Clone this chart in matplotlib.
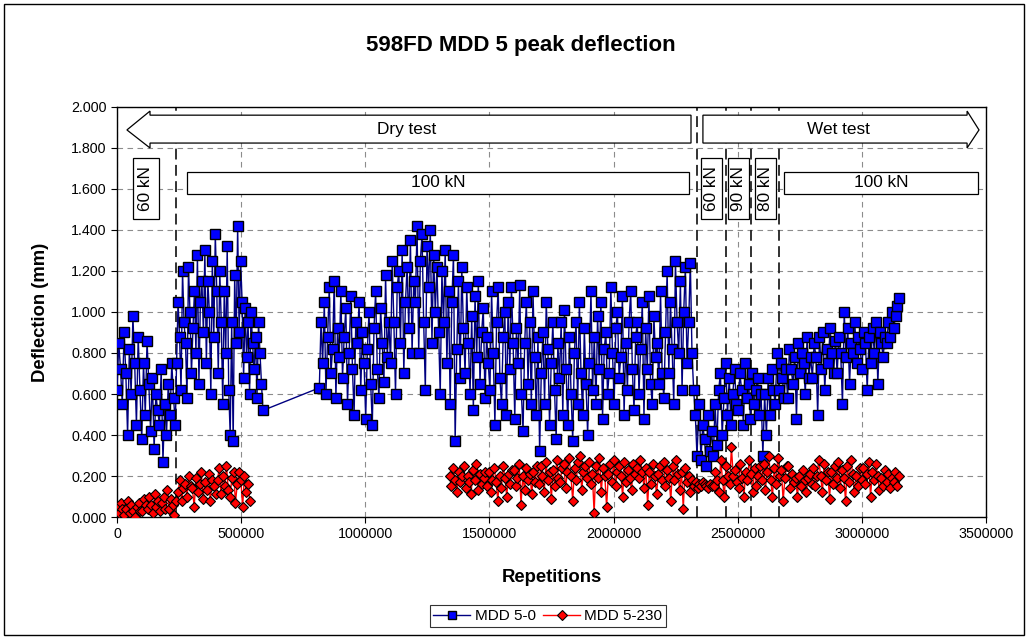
import numpy as np
import matplotlib
matplotlib.use("Agg")
import matplotlib.pyplot as plt
from matplotlib.patches import Polygon, Rectangle
from matplotlib.ticker import FuncFormatter

plt.rcParams['font.family'] = ['Liberation Sans', 'DejaVu Sans']

# MDD 5-0 (surface) peak deflection, mm
blue_a_span = (0, 235000)
blue_a = [0.62, 0.85, 0.72, 0.55, 0.90, 0.70, 0.40, 0.82, 0.60, 0.98, 0.75, 0.45,
          0.88, 0.62, 0.38, 0.75, 0.50, 0.86, 0.65, 0.42, 0.68, 0.33, 0.60, 0.52,
          0.45, 0.72, 0.27, 0.55, 0.40, 0.65, 0.50, 0.75, 0.58, 0.45]
blue_b_span = (240000, 588000)
blue_b = [0.75, 1.05, 0.88, 0.62, 1.20, 0.95, 0.85, 0.58, 1.22, 1.00, 0.70, 0.92,
          1.10, 0.80, 1.28, 0.65, 1.05, 1.15, 0.90, 1.30, 0.75, 1.15, 1.00, 0.60,
          1.25, 0.88, 1.38, 1.10, 0.70, 1.20, 0.95, 0.55, 1.10, 0.80, 1.32, 0.62,
          0.40, 0.95, 0.37, 1.18, 0.85, 1.42, 0.90, 1.25, 1.05, 0.68, 1.02, 0.78,
          0.95, 0.60, 1.00, 0.85, 0.72, 0.88, 0.58, 0.95, 0.80, 0.65, 0.52]
blue_c_span = (815000, 2336000)
blue_c = [0.63, 0.95, 0.75, 1.05, 0.60, 0.88, 1.12, 0.70, 0.82, 1.15, 0.58, 0.92, 0.78,
          1.10, 0.68, 0.88, 1.02, 0.55, 0.80, 1.08, 0.72, 0.50, 0.95, 0.85, 1.05, 0.62, 0.90, 0.75,
          0.48, 0.82, 1.00, 0.65, 0.45, 0.92, 1.10, 0.72, 0.58, 1.02, 0.85, 0.66, 1.18, 0.78, 0.95,
          0.75, 1.25, 0.95, 0.60, 1.12, 1.20, 0.85, 1.30, 0.70, 1.05, 1.22, 0.92, 1.35, 0.80, 1.15,
          1.05, 1.42, 0.80, 1.25, 1.38, 0.95, 0.62, 1.32, 1.12, 1.40, 0.85, 1.28, 1.00, 1.22, 0.90,
          0.60, 1.20, 0.95, 1.30, 0.75, 1.10, 0.55, 1.05, 1.28, 0.37, 0.82, 1.15, 0.68, 1.22, 0.92,
          0.70, 1.12, 0.85, 0.60, 0.98, 0.52, 1.08, 0.78, 1.15, 0.65, 0.90, 1.02, 0.58, 0.88, 0.75,
          0.62, 1.10, 0.80, 0.45, 0.95, 1.12, 0.68, 0.55, 0.88, 1.00, 0.50, 1.05, 0.72, 1.12, 0.85,
          0.48, 0.92, 0.75, 1.13, 0.60, 0.42, 0.85, 1.05, 0.65, 0.95, 0.55, 1.10, 0.78, 0.50, 0.88,
          0.32, 0.70, 0.90, 0.55, 1.05, 0.82, 0.45, 0.75, 0.95, 0.62, 0.38, 0.85, 0.68, 0.95, 0.50,
          1.01, 0.72, 0.45, 0.88, 0.60, 0.37, 0.80, 0.95, 0.55, 1.05, 0.70, 0.50, 0.92, 0.65, 0.40,
          0.75, 1.10, 0.62, 0.88, 0.55, 0.98, 0.72, 1.05, 0.48, 0.82, 0.90, 0.60, 0.70, 1.12, 0.80,
          0.55, 0.92, 1.00, 0.68, 0.78, 1.08, 0.50, 0.85, 0.62, 0.95, 1.10, 0.72, 0.52, 0.88, 0.95,
          0.60, 0.82, 1.05, 0.48, 0.92, 0.72, 1.08, 0.65, 0.55, 0.98, 0.78, 0.85, 0.65, 1.10, 0.70,
          0.58, 0.90, 1.20, 0.70, 1.05, 0.82, 0.55, 1.25, 0.95, 0.80, 1.15, 0.62, 1.00, 1.22, 0.75,
          0.95, 1.24, 0.80, 0.62, 0.50, 0.30]
blue_d_span = (2345000, 3150000)
blue_d = [0.55, 0.28, 0.45, 0.38, 0.25, 0.50, 0.32, 0.42,
          0.30, 0.55, 0.35, 0.62, 0.70, 0.40, 0.58, 0.75, 0.50, 0.68, 0.45, 0.60, 0.72, 0.55,
          0.52, 0.70, 0.62, 0.45, 0.75, 0.58, 0.65, 0.48, 0.70, 0.55, 0.62, 0.68, 0.50, 0.60,
          0.30, 0.60, 0.40, 0.68, 0.50, 0.72, 0.62, 0.55, 0.80, 0.62, 0.75, 0.68, 0.58, 0.72,
          0.58, 0.82, 0.72, 0.65, 0.78, 0.48, 0.85, 0.70, 0.80, 0.75, 0.60, 0.88, 0.68, 0.78,
          0.68, 0.85, 0.78, 0.50, 0.88, 0.72, 0.90, 0.62, 0.82, 0.75, 0.92, 0.80, 0.70, 0.86,
          0.70, 0.88, 0.80, 0.55, 1.00, 0.78, 0.92, 0.65, 0.85, 0.80, 0.95, 0.75, 0.88, 0.82,
          0.72, 0.90, 0.85, 0.62, 0.88, 0.75, 0.92, 0.80, 0.95, 0.65, 0.90, 0.85, 0.78, 0.88,
          0.85, 0.95, 0.88, 1.00, 0.92, 0.98, 1.03, 1.07]

# MDD 5-230 peak deflection, mm
red_a_span = (0, 535000)
red_a = [0.05, 0.02, 0.07, 0.04, 0.01, 0.04, 0.08, 0.02, 0.06, 0.03, 0.00, 0.05, 0.07, 0.03,
         0.03, 0.09, 0.06, 0.04, 0.10, 0.06, 0.02, 0.11, 0.05, 0.08, 0.03, 0.07, 0.10, 0.04,
         0.13, 0.04, 0.09, 0.06, 0.01, 0.08,
         0.12, 0.18, 0.08, 0.14, 0.16, 0.10, 0.20, 0.15,
         0.14, 0.05, 0.19, 0.12, 0.16, 0.22, 0.09, 0.17, 0.13, 0.21, 0.08, 0.18, 0.15, 0.11,
         0.18, 0.24, 0.11, 0.20, 0.15, 0.25, 0.13, 0.10, 0.19, 0.22, 0.07, 0.16, 0.22, 0.18,
         0.05, 0.20, 0.12, 0.16, 0.08]
red_b_span = (1340000, 3150000)
red_b = [0.20, 0.15, 0.24, 0.18, 0.12, 0.22, 0.17, 0.20,
         0.25, 0.14, 0.20, 0.17, 0.11, 0.23, 0.18, 0.26, 0.13, 0.21, 0.16, 0.19, 0.22, 0.15,
         0.22, 0.12, 0.18, 0.24, 0.17, 0.08, 0.20, 0.14, 0.25, 0.19, 0.10, 0.21, 0.16, 0.23,
         0.23, 0.15, 0.19, 0.26, 0.06, 0.20, 0.13, 0.24, 0.18, 0.21, 0.11, 0.22, 0.17, 0.25,
         0.16, 0.25, 0.20, 0.12, 0.27, 0.18, 0.22, 0.09, 0.23, 0.15, 0.28, 0.19, 0.17, 0.24,
         0.26, 0.14, 0.22, 0.29, 0.20, 0.08, 0.24, 0.18, 0.27, 0.30, 0.13, 0.22, 0.25, 0.19,
         0.27, 0.16, 0.21, 0.02, 0.25, 0.19, 0.29, 0.12, 0.24, 0.20, 0.05, 0.21, 0.26, 0.17,
         0.28, 0.15, 0.22, 0.25, 0.20, 0.10, 0.27, 0.17, 0.23, 0.19, 0.13, 0.26, 0.21, 0.24,
         0.19, 0.28, 0.22, 0.14, 0.24, 0.06, 0.22, 0.16, 0.26, 0.20, 0.11, 0.21, 0.25, 0.18,
         0.27, 0.15, 0.23, 0.19, 0.08, 0.25, 0.18, 0.28, 0.21, 0.13, 0.22, 0.04, 0.24, 0.17,
         0.20, 0.12, 0.18, 0.15, 0.17, 0.14, 0.16, 0.15, 0.17, 0.16, 0.15, 0.14, 0.16, 0.15,
         0.15, 0.22, 0.18, 0.12, 0.28, 0.18, 0.10, 0.25, 0.20, 0.16, 0.34, 0.20, 0.23, 0.17,
         0.14, 0.26, 0.19, 0.10, 0.22, 0.18, 0.28, 0.21, 0.12, 0.24, 0.15, 0.20, 0.25, 0.18,
         0.26, 0.13, 0.22, 0.30, 0.18, 0.10, 0.24, 0.16, 0.29, 0.20, 0.23, 0.08, 0.19, 0.25,
         0.25, 0.14, 0.21, 0.17, 0.19, 0.10, 0.20, 0.15, 0.23, 0.18, 0.12, 0.19, 0.21, 0.16,
         0.24, 0.15, 0.20, 0.28, 0.20, 0.12, 0.26, 0.18, 0.22, 0.09, 0.22, 0.16, 0.25, 0.19,
         0.27, 0.14, 0.23, 0.19, 0.08, 0.25, 0.17, 0.28, 0.21, 0.12, 0.20, 0.15, 0.24, 0.18,
         0.24, 0.16, 0.21, 0.27, 0.10, 0.22, 0.18, 0.26, 0.20, 0.13, 0.19, 0.15, 0.23, 0.17,
         0.21, 0.14, 0.19, 0.17, 0.22, 0.15, 0.20]

# load change lines (repetitions)
phase_lines = [237000, 2336000, 2452000, 2553000, 2666000]


def seg_x(span, vals):
    return np.linspace(span[0], span[1], len(vals))


bx = np.concatenate([seg_x(blue_a_span, blue_a), seg_x(blue_b_span, blue_b),
                     seg_x(blue_c_span, blue_c), seg_x(blue_d_span, blue_d)])
by = np.concatenate([blue_a, blue_b, blue_c, blue_d])
rx = np.concatenate([seg_x(red_a_span, red_a), [np.nan], seg_x(red_b_span, red_b)])
ry = np.concatenate([red_a, [np.nan], red_b])

fig = plt.figure(figsize=(10.28, 6.39), dpi=100)
ax = fig.add_axes([0.1138, 0.1909, 0.8453, 0.6417])

ax.plot(bx, by, color='#000080', lw=1.0, marker='s', ms=7.2, mfc='#0000ff',
        mec='black', mew=1.0, label='MDD 5-0', zorder=3)
ax.plot(rx, ry, color='red', lw=1.0, marker='D', ms=5.4, mfc='red',
        mec='black', mew=0.8, label='MDD 5-230', zorder=4)

ax.set_xlim(0, 3500000)
ax.set_ylim(0, 2.0)
ax.set_xticks(np.arange(0, 3500001, 500000))
ax.xaxis.set_major_formatter(FuncFormatter(lambda v, p: f"{int(v)}"))
ax.set_yticks(np.arange(0, 2.001, 0.2))
ax.yaxis.set_major_formatter(FuncFormatter(lambda v, p: f"{v:.3f}"))
ax.tick_params(labelsize=10.3, length=4, width=0.8, direction='out')
ax.grid(True, color='#8c8c8c', ls=(0, (5, 4)), lw=0.8)
ax.set_axisbelow(True)
for s in ax.spines.values():
    s.set_linewidth(1.0)

for xv in phase_lines:
    ax.axvline(xv, color='#222222', lw=1.3, ls=(0, (6, 3)), zorder=2)

ax.set_xlabel('Repetitions', fontsize=13.3, fontweight='bold', labelpad=20)
ax.set_ylabel('Deflection (mm)', fontsize=13.3, fontweight='bold', labelpad=16)
fig.text(0.507, 0.929, '598FD MDD 5 peak deflection', ha='center', va='center',
         fontsize=16, fontweight='bold')

# phase arrows
dry = [(40000, 1.888), (133000, 1.98), (133000, 1.96), (2312000, 1.96),
       (2312000, 1.824), (133000, 1.824), (133000, 1.80)]
wet = [(2360000, 1.96), (3424000, 1.96), (3424000, 1.98), (3472000, 1.888),
       (3424000, 1.80), (3424000, 1.824), (2360000, 1.824)]
for pts in (dry, wet):
    ax.add_patch(Polygon(pts, closed=True, fc='white', ec='black', lw=0.9, zorder=5))
ax.text(1168000, 1.888, 'Dry test', ha='center', va='center', fontsize=12.4, zorder=6)
ax.text(2904000, 1.888, 'Wet test', ha='center', va='center', fontsize=12.4, zorder=6)

# load boxes
for x0, x1 in [(282000, 2304000), (2687000, 3468000)]:
    ax.add_patch(Rectangle((x0, 1.576), x1 - x0, 0.107, fc='white', ec='black',
                           lw=0.9, zorder=5))
    ax.text((x0 + x1) / 2, 1.63, '100 kN', ha='center', va='center',
            fontsize=12.4, zorder=6)
for x0, x1, lab in [(64000, 169000, '60 kN'), (2352000, 2437000, '60 kN'),
                    (2461000, 2546000, '90 kN'), (2570000, 2654000, '80 kN')]:
    ax.add_patch(Rectangle((x0, 1.454), x1 - x0, 0.297, fc='white', ec='black',
                           lw=0.9, zorder=5))
    ax.text((x0 + x1) / 2, 1.6025, lab, ha='center', va='center', rotation=90,
            fontsize=12.4, zorder=6)

leg = fig.legend(loc='center', bbox_to_anchor=(0.533, 0.036), ncol=2, fontsize=11,
                 frameon=True, fancybox=False, edgecolor='black', numpoints=1,
                 handlelength=2.4, columnspacing=0.5, handletextpad=0.3,
                 borderpad=0.25, markerscale=0.85)
leg.get_frame().set_linewidth(0.8)

fig.add_artist(Rectangle((0.004, 0.006), 0.992, 0.988, transform=fig.transFigure,
                         fill=False, ec='black', lw=1.0))

fig.savefig('out.png', dpi=100)
